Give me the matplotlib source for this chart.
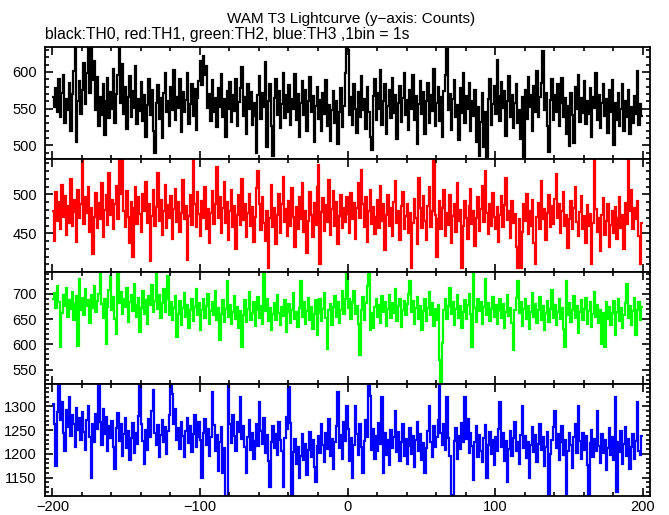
import numpy as np
import matplotlib.pyplot as plt
from matplotlib.ticker import MultipleLocator

# 1 s bins from -200 s to +200 s
t_start = -200
t_stop = 200

# TH0 counts (black)
th0 = [
    566, 552, 578, 545, 590, 538, 571, 596, 530, 563, 548, 585, 519, 570, 601, 634, 505, 561, 588, 542,
    575, 612, 556, 598, 634, 571, 634, 589, 615, 548, 593, 527, 566, 541, 583, 514, 560, 592, 537, 572,
    549, 604, 531, 570, 596, 634, 558, 611, 542, 579, 522, 566, 595, 538, 574, 551, 608, 529, 563, 547,
    586, 533, 569, 512, 555, 590, 541, 575, 520, 489, 557, 582, 536, 564, 510, 571, 598, 545, 560, 527,
    579, 548, 602, 534, 566, 551, 590, 518, 573, 545, 562, 599, 529, 556, 584, 540, 577, 521, 565, 588,
    615, 582, 622, 596, 608, 551, 570, 533, 589, 546, 565, 525, 578, 552, 597, 538, 563, 511, 574, 549,
    586, 532, 568, 547, 591, 526, 559, 578, 607, 540, 566, 515, 583, 549, 572, 528, 557, 540, 489, 568,
    594, 536, 571, 552, 613, 498, 560, 583, 527, 486, 565, 590, 541, 574, 523, 556, 599, 537, 568, 545,
    582, 528, 563, 549, 597, 534, 570, 512, 558, 588, 541, 575, 520, 561, 593, 546, 567, 505, 554, 580,
    536, 562, 519, 571, 543, 589, 527, 555, 506, 548, 574, 531, 560, 502, 545, 578, 525, 553, 599, 634,
    630, 541, 566, 528, 583, 550, 517, 572, 539, 595, 548, 563, 522, 580, 545, 511, 494, 567, 590, 535,
    571, 549, 603, 528, 560, 584, 516, 553, 576, 537, 592, 544, 568, 509, 557, 581, 532, 565, 598, 541,
    562, 521, 575, 550, 596, 535, 567, 502, 556, 588, 543, 572, 515, 560, 585, 531, 569, 547, 604, 526,
    558, 580, 533, 566, 512, 574, 596, 631, 548, 570, 521, 563, 589, 538, 555, 507, 578, 544, 599, 530,
    567, 549, 585, 519, 561, 540, 576, 505, 552, 486, 532, 571, 498, 545, 484, 563, 590, 528, 556, 581,
    542, 616, 567, 533, 586, 551, 574, 513, 560, 595, 538, 569, 524, 557, 583, 530, 548, 508, 566, 482,
    575, 536, 593, 552, 569, 519, 581, 545, 601, 539, 566, 585, 629, 548, 571, 526, 491, 562, 590, 534,
    568, 545, 583, 527, 557, 592, 538, 564, 515, 553, 499, 571, 541, 503, 580, 549, 596, 532, 565, 544,
    587, 529, 560, 543, 578, 512, 566, 551, 598, 535, 569, 523, 557, 584, 540, 563, 517, 575, 546, 589,
    501, 558, 534, 571, 526, 549, 583, 520, 561, 538, 575, 515, 552, 530, 567, 543, 601, 528, 556, 540,
]

# TH1 counts (red)
th1 = [
    478, 440, 503, 466, 490, 455, 512, 471, 498, 448, 485, 463, 520, 459, 493, 477, 439, 506, 470, 488,
    545, 462, 497, 476, 509, 452, 483, 424, 471, 502, 457, 489, 468, 515, 445, 480, 499, 461, 527, 474,
    493, 456, 487, 511, 468, 545, 500, 545, 479, 458, 504, 471, 437, 490, 420, 483, 509, 462, 496, 475,
    452, 501, 478, 516, 463, 488, 414, 472, 506, 459, 484, 527, 466, 493, 448, 479, 512, 457, 486, 470,
    498, 443, 481, 507, 464, 490, 452, 476, 518, 468, 485, 416, 472, 499, 461, 545, 487, 458, 503, 475,
    447, 492, 469, 510, 455, 481, 437, 476, 504, 462, 488, 535, 470, 496, 451, 483, 516, 463, 490, 441,
    479, 506, 458, 485, 430, 473, 499, 461, 520, 467, 488, 445, 476, 501, 459, 484, 439, 471, 508, 530,
    487, 454, 496, 463, 440, 478, 406, 469, 512, 458, 483, 436, 474, 500, 451, 488, 522, 465, 481, 447,
    492, 460, 508, 471, 433, 484, 456, 497, 468, 514, 452, 479, 425, 466, 503, 474, 445, 489, 461, 510,
    537, 411, 477, 495, 453, 486, 465, 518, 448, 481, 504, 459, 490, 436, 472, 499, 457, 483, 464, 497,
    475, 451, 502, 468, 489, 443, 482, 514, 470, 531, 487, 458, 496, 439, 478, 505, 462, 484, 449, 471,
    493, 457, 511, 466, 487, 428, 474, 499, 460, 482, 446, 490, 517, 463, 479, 441, 485, 503, 456, 472,
    488, 451, 476, 405, 463, 494, 470, 436, 521, 482, 457, 498, 466, 441, 485, 509, 458, 479, 545, 473,
    420, 468, 492, 455, 483, 506, 447, 476, 461, 499, 438, 472, 488, 452, 515, 466, 480, 405, 459, 491,
    470, 443, 485, 507, 462, 478, 434, 469, 496, 453, 481, 511, 465, 530, 476, 449, 488, 460, 502, 471,
    456, 484, 439, 473, 498, 458, 486, 521, 467, 479, 444, 492, 463, 475, 433, 405, 468, 406, 452, 487,
    466, 501, 449, 478, 460, 493, 437, 410, 471, 489, 455, 517, 468, 481, 442, 476, 499, 458, 485, 462,
    494, 526, 470, 487, 451, 479, 503, 460, 474, 431, 468, 492, 455, 483, 509, 464, 446, 477, 498, 456,
    472, 438, 486, 459, 475, 410, 463, 545, 481, 452, 469, 427, 474, 495, 448, 466, 487, 433, 461, 478,
    451, 484, 443, 470, 497, 457, 474, 430, 489, 462, 545, 479, 506, 455, 483, 468, 492, 447, 410, 463,
]

# TH2 counts (green)
th2 = [
    690, 702, 672, 715, 683, 594, 661, 698, 676, 711, 654, 687, 669, 703, 648, 680, 695, 596, 730, 668,
    691, 657, 709, 675, 688, 642, 697, 671, 716, 663, 685, 699, 744, 679, 652, 690, 600, 674, 707, 735,
    667, 693, 651, 620, 744, 682, 704, 660, 689, 673, 712, 645, 684, 697, 666, 720, 678, 655, 691, 624,
    672, 706, 659, 688, 640, 695, 677, 718, 663, 686, 744, 670, 698, 652, 681, 709, 664, 690, 735, 657,
    683, 648, 672, 696, 614, 660, 685, 639, 671, 702, 655, 677, 633, 668, 690, 646, 674, 710, 658, 681,
    629, 667, 689, 652, 676, 699, 641, 665, 683, 657, 706, 648, 672, 609, 660, 687, 644, 669, 725, 654,
    678, 640, 663, 695, 651, 674, 632, 666, 595, 657, 688, 645, 670, 703, 649, 662, 684, 637, 668, 693,
    653, 676, 640, 744, 665, 690, 647, 671, 629, 659, 682, 648, 697, 661, 638, 673, 656, 688, 624, 664,
    679, 643, 668, 701, 650, 663, 635, 671, 725, 655, 684, 641, 666, 692, 648, 673, 630, 660, 687, 619,
    662, 689, 646, 670, 701, 652, 590, 667, 680, 638, 673, 695, 655, 684, 642, 668, 706, 660, 689, 744,
    672, 690, 651, 683, 705, 659, 676, 640, 578, 667, 694, 648, 681, 715, 744, 629, 662, 633, 674, 689,
    655, 678, 642, 696, 664, 684, 637, 670, 698, 652, 681, 661, 709, 646, 675, 690, 634, 668, 686, 657,
    679, 700, 725, 663, 685, 641, 672, 694, 650, 676, 628, 666, 689, 647, 671, 703, 658, 682, 636, 669,
    648, 677, 569, 524, 602, 667, 690, 650, 675, 711, 659, 684, 638, 670, 697, 653, 676, 632, 664, 688,
    651, 678, 699, 660, 595, 744, 672, 645, 690, 666, 683, 640, 674, 730, 658, 681, 647, 670, 693, 655,
    677, 641, 668, 689, 652, 679, 633, 664, 698, 656, 672, 643, 588, 667, 692, 725, 661, 684, 637, 669,
    690, 650, 676, 631, 663, 701, 655, 680, 642, 668, 693, 649, 675, 628, 661, 686, 645, 670, 707, 653,
    678, 638, 664, 689, 650, 672, 630, 595, 725, 658, 681, 644, 667, 696, 652, 676, 622, 663, 687, 648,
    670, 692, 641, 666, 683, 635, 660, 704, 654, 677, 643, 668, 600, 661, 595, 684, 651, 673, 639, 662,
    686, 618, 664, 690, 647, 671, 633, 658, 681, 720, 652, 676, 638, 665, 691, 619, 668, 684, 649, 673,
]

# TH3 counts (blue)
th3 = [
    1305, 1262, 1175, 1288, 1348, 1271, 1310, 1244, 1205, 1293, 1256, 1319, 1238, 1282, 1264, 1214, 1297, 1251, 1276, 1230,
    1289, 1247, 1209, 1272, 1301, 1236, 1150, 1263, 1224, 1285, 1252, 1348, 1268, 1219, 1294, 1241, 1277, 1206, 1259, 1233,
    1270, 1215, 1168, 1254, 1287, 1228, 1262, 1196, 1241, 1276, 1212, 1249, 1187, 1233, 1266, 1201, 1244, 1220, 1279, 1347,
    1263, 1227, 1179, 1251, 1208, 1274, 1236, 1290, 1334, 1245, 1218, 1260, 1193, 1239, 1271, 1224, 1256, 1199, 1248, 1283,
    1347, 1326, 1262, 1295, 1230, 1254, 1211, 1268, 1237, 1193, 1249, 1276, 1222, 1258, 1204, 1241, 1283, 1215, 1236, 1267,
    1229, 1150, 1244, 1273, 1218, 1252, 1196, 1235, 1330, 1261, 1207, 1240, 1163, 1226, 1257, 1160, 1213, 1111, 1111, 1345,
    1262, 1223, 1281, 1238, 1205, 1267, 1246, 1320, 1231, 1259, 1214, 1160, 1236, 1272, 1209, 1245, 1190, 1228, 1263, 1217,
    1310, 1248, 1221, 1275, 1202, 1239, 1185, 1130, 1226, 1258, 1213, 1242, 1197, 1268, 1229, 1206, 1130, 1234, 1277, 1252,
    1342, 1265, 1111, 1204, 1231, 1178, 1215, 1150, 1196, 1242, 1188, 1221, 1155, 1209, 1247, 1193, 1229, 1172, 1140, 1216,
    1238, 1201, 1262, 1219, 1183, 1245, 1210, 1273, 1196, 1231, 1167, 1224, 1258, 1330, 1213, 1240, 1189, 1268, 1227, 1300,
    1252, 1184, 1233, 1150, 1219, 1300, 1241, 1197, 1262, 1214, 1160, 1228, 1271, 1235, 1347, 1322, 1209, 1253, 1190, 1237,
    1206, 1265, 1221, 1320, 1160, 1243, 1198, 1229, 1176, 1251, 1212, 1236, 1290, 1203, 1247, 1185, 1224, 1262, 1195, 1232,
    1178, 1216, 1254, 1199, 1237, 1172, 1229, 1268, 1205, 1241, 1187, 1222, 1160, 1213, 1249, 1300, 1226, 1193, 1258, 1215,
    1236, 1271, 1348, 1245, 1218, 1264, 1209, 1320, 1233, 1196, 1111, 1113, 1227, 1255, 1190, 1238, 1211, 1266, 1224, 1320,
    1232, 1273, 1201, 1244, 1217, 1145, 1226, 1258, 1193, 1239, 1207, 1182, 1234, 1261, 1150, 1218, 1247, 1199, 1229, 1176,
    1236, 1207, 1252, 1310, 1214, 1243, 1185, 1228, 1140, 1211, 1249, 1196, 1233, 1268, 1205, 1224, 1179, 1240, 1300, 1212,
    1237, 1191, 1226, 1150, 1218, 1256, 1203, 1239, 1183, 1221, 1262, 1208, 1235, 1174, 1215, 1247, 1111, 1199, 1230, 1257,
    1290, 1213, 1241, 1188, 1224, 1259, 1197, 1230, 1115, 1206, 1243, 1219, 1171, 1236, 1262, 1202, 1300, 1227, 1189, 1245,
    1209, 1238, 1176, 1113, 1222, 1251, 1194, 1231, 1207, 1290, 1216, 1180, 1242, 1201, 1229, 1166, 1213, 1254, 1198, 1235,
    1187, 1320, 1120, 1226, 1203, 1248, 1179, 1220, 1257, 1195, 1232, 1168, 1214, 1241, 1189, 1227, 1310, 1206, 1198, 1237,
]

series = [th0, th1, th2, th3]
colors = ['black', '#ff0000', '#00ff00', '#0000ff']
ylims = [(481, 634), (401, 545), (522, 744), (1111, 1348)]
yticks = [[500, 550, 600], [450, 500], [550, 600, 650, 700], [1150, 1200, 1250, 1300]]

plt.rcParams['font.family'] = 'Liberation Sans'

fig = plt.figure(figsize=(6.69, 5.15), dpi=100)

edges = np.arange(t_start, t_stop + 1)

# panel geometry in pixels (669 x 515 canvas)
left, right = 45 / 669, 650 / 669
top_px, bot_px = 47, 496
h_px = (bot_px - top_px) / 4

axes = []
for i in range(4):
    y0 = 1 - (top_px + (i + 1) * h_px) / 515
    ax = fig.add_axes([left, y0, right - left, h_px / 515])
    ax.stairs(series[i], edges, color=colors[i], linewidth=1.6, baseline=None)
    ax.set_xlim(-205, 205)
    ax.set_ylim(*ylims[i])
    ax.set_yticks(yticks[i])
    ax.xaxis.set_major_locator(MultipleLocator(100))
    ax.xaxis.set_minor_locator(MultipleLocator(20))
    ax.yaxis.set_minor_locator(MultipleLocator(10))
    ax.tick_params(which='both', direction='in', top=True, right=True,
                   width=1.2, labelsize=10.5, pad=6)
    ax.tick_params(which='major', length=6)
    ax.tick_params(which='minor', length=3)
    ax.tick_params(axis='x', pad=3)
    for sp in ax.spines.values():
        sp.set_linewidth(1.3)
    if i < 3:
        ax.tick_params(axis='x', labelbottom=False)
    axes.append(ax)

fig.text(351 / 669, 1 - 19 / 515, 'WAM T3 Lightcurve (y\u2212axis: Counts)',
         ha='center', va='center', fontsize=11)
fig.text(left, 1 - 34 / 515, 'black:TH0, red:TH1, green:TH2, blue:TH3 ,1bin = 1s',
         ha='left', va='center', fontsize=11.3)

fig.savefig('out.png', dpi=100)
